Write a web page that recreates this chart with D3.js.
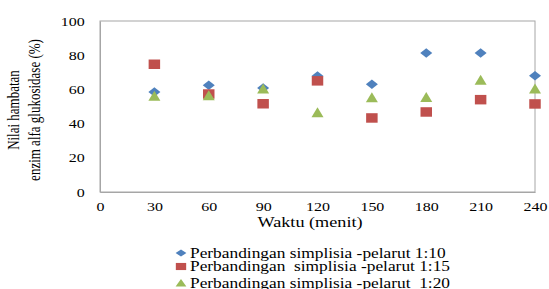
<!DOCTYPE html>
<html>
<head>
<meta charset="utf-8">
<script src="https://cdn.jsdelivr.net/npm/d3@7"></script>
<style>
  body { margin: 0; background: #fff; }
  text { font-family: "Liberation Serif", "Times New Roman", serif; fill: #000; }
</style>
</head>
<body>
<svg id="chart"></svg>
<script>
// waktu (menit) on x, inhibition (%) on y
const waktu = [30, 60, 90, 120, 150, 180, 210, 240]
const rasio110 = [58.5, 62.5, 60.8, 67.8, 63, 81.3, 81.3, 68]
const rasio115 = [74.7, 57.3, 51.6, 65, 43.3, 46.8, 54, 51.5]
const rasio120 = [55.7, 56, 60, 46, 54.8, 55, 65, 60]
const xTicks = [0, 30, 60, 90, 120, 150, 180, 210, 240]
const yTicks = [0, 20, 40, 60, 80, 100]
const seriesNames = [
    'Perbandingan simplisia -pelarut 1:10',
    'Perbandingan  simplisia -pelarut 1:15',
    'Perbandingan simplisia -pelarut  1:20'
]

const width = 549
const height = 289
let margin = { top: 21, right: 14, bottom: 97, left: 100 }
// the original picture is stretched sideways, so text is widened too
const stretch = 1.23

const svg = d3.select('#chart')
    .attr('width', width)
    .attr('height', height)

const x = d3.scaleLinear().domain([0, 240]).range([margin.left, width - margin.right])
const y = d3.scaleLinear().domain([0, 100]).range([height - margin.bottom, margin.top])

// plot box
svg.append('rect')
    .attr('x', x(0)).attr('y', y(100))
    .attr('width', x(240) - x(0)).attr('height', y(0) - y(100))
    .style('fill', 'none').style('stroke', '#a6a6a6').style('stroke-width', 1)

svg.append('g')
    .attr('transform', `translate(0,${y(0)})`)
    .call(d3.axisBottom(x).tickValues(xTicks).tickSize(0).tickPadding(10))
    .call(g => g.select('.domain').attr('stroke', '#a6a6a6'))
    .selectAll('text')
    .style('font-size', '13px')
    .style('font-family', '"Liberation Serif", serif')
    .attr('transform', `scale(${stretch},1)`)

svg.append('g')
    .attr('transform', `translate(${x(0)},0)`)
    .call(d3.axisLeft(y).tickValues(yTicks).tickSize(0).tickPadding(12.5))
    .call(g => g.select('.domain').attr('stroke', '#a6a6a6'))
    .selectAll('text')
    .style('font-size', '13px')
    .style('font-family', '"Liberation Serif", serif')
    .attr('transform', `scale(${stretch},1)`)

svg.append('g')
    .attr('transform', `translate(310,227) scale(1.3,1)`)
    .append('text')
    .attr('text-anchor', 'middle')
    .style('font-size', '14px')
    .text('Waktu (menit)')

const yTitle = svg.append('text')
    .attr('transform', `translate(19,110) scale(${stretch},1) rotate(-90)`)
    .attr('text-anchor', 'middle')
    .style('font-size', '13px')
yTitle.append('tspan').attr('x', 0).attr('dy', 0).text('Nilai hambatan')
yTitle.append('tspan').attr('x', 0).attr('dy', '1.33em').text('enzim alfa glukosidase (%)')

// marker shapes, a little wider than tall like the original
function diamond(w, h) {
    return `M${-w / 2},0L0,${-h / 2}L${w / 2},0L0,${h / 2}Z`
}
function square(w, h) {
    return `M${-w / 2},${-h / 2}h${w}v${h}h${-w}Z`
}
function triangle(w, h) {
    return `M0,${-h * 0.6}L${w / 2},${h * 0.4}L${-w / 2},${h * 0.4}Z`
}

const series = [
    { name: seriesNames[0], values: rasio110, color: '#4f81bd', shape: diamond, w: 12, h: 9.5 },
    { name: seriesNames[1], values: rasio115, color: '#c0504d', shape: square, w: 11.5, h: 9.5 },
    { name: seriesNames[2], values: rasio120, color: '#9bbb59', shape: triangle, w: 12, h: 10 }
]

series.forEach(s => {
    svg.append('g')
        .selectAll('path')
        .data(waktu.map((w, i) => [w, s.values[i]]))
        .join('path')
        .attr('transform', d => `translate(${x(d[0])},${y(d[1])})`)
        .attr('d', s.shape(s.w, s.h))
        .style('fill', s.color)
})

// legend
const legendBase = [257.5, 271, 288]
const rows = svg.append('g')
    .selectAll('g')
    .data(series)
    .join('g')
    .attr('transform', (d, i) => `translate(181,${legendBase[i]})`)
rows.append('path')
    .attr('transform', 'translate(0,-4.5)')
    .attr('d', d => d.shape(d.w * 0.9, d.h * 0.75))
    .style('fill', d => d.color)
rows.append('text')
    .attr('transform', `translate(9,0) scale(1.24,1)`)
    .style('font-size', '14px')
    .style('white-space', 'pre')
    .text(d => d.name)
</script>
</body>
</html>
